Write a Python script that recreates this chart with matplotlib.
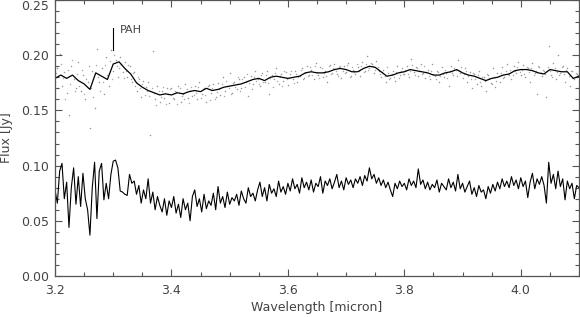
import numpy as np
import matplotlib
matplotlib.use('Agg')
import matplotlib.pyplot as plt
from matplotlib.ticker import MultipleLocator, FormatStrFormatter

# wavelength grid of the lower spectrum (micron), 0.004 micron step
wavelength = np.linspace(3.2, 4.1, 226)

# lower spectrum (Jy)
flux_low = [
    0.078, 0.066, 0.095, 0.102, 0.070, 0.085, 0.044, 0.080, 0.098, 0.065,
    0.090, 0.063, 0.093, 0.070, 0.060, 0.037, 0.080, 0.103, 0.052, 0.095,
    0.102, 0.069, 0.084, 0.070, 0.092, 0.104, 0.105, 0.098, 0.077, 0.076,
    0.074, 0.073, 0.092, 0.084, 0.086, 0.074, 0.082, 0.066, 0.078, 0.070,
    0.088, 0.066, 0.076, 0.060, 0.072, 0.064, 0.058, 0.070, 0.055, 0.068,
    0.062, 0.072, 0.057, 0.065, 0.053, 0.070, 0.060, 0.066, 0.050, 0.072,
    0.078, 0.063, 0.070, 0.058, 0.074, 0.061, 0.068, 0.064, 0.075, 0.060,
    0.081, 0.066, 0.072, 0.062, 0.076, 0.065, 0.071, 0.068, 0.074, 0.064,
    0.077, 0.070, 0.066, 0.080, 0.072, 0.075, 0.068, 0.078, 0.085, 0.072,
    0.080, 0.068, 0.083, 0.075, 0.079, 0.072, 0.086, 0.076, 0.081, 0.074,
    0.084, 0.077, 0.088, 0.079, 0.083, 0.075, 0.089, 0.080, 0.085, 0.078,
    0.087, 0.076, 0.084, 0.081, 0.090, 0.075, 0.086, 0.082, 0.088, 0.079,
    0.085, 0.092, 0.080, 0.086, 0.078, 0.089, 0.083, 0.087, 0.080, 0.088,
    0.084, 0.090, 0.082, 0.091, 0.086, 0.098, 0.088, 0.092, 0.084, 0.089,
    0.082, 0.087, 0.080, 0.085, 0.078, 0.072, 0.084, 0.079, 0.086, 0.081,
    0.084, 0.078, 0.088, 0.082, 0.086, 0.080, 0.097, 0.083, 0.087, 0.079,
    0.085, 0.078, 0.083, 0.080, 0.087, 0.076, 0.084, 0.081, 0.078, 0.088,
    0.080, 0.085, 0.077, 0.092, 0.079, 0.084, 0.076, 0.081, 0.086, 0.074,
    0.080, 0.072, 0.082, 0.076, 0.078, 0.070, 0.081, 0.075, 0.083, 0.077,
    0.085, 0.079, 0.088, 0.081, 0.086, 0.080, 0.090, 0.082, 0.087, 0.079,
    0.089, 0.081, 0.086, 0.071, 0.085, 0.093, 0.079, 0.088, 0.083, 0.090,
    0.082, 0.066, 0.103, 0.084, 0.092, 0.079, 0.095, 0.081, 0.088, 0.069,
    0.086, 0.079, 0.084, 0.070, 0.082, 0.080,
]

# upper spectrum, individual points (Jy): two interleaved sets
wavelength_pts_a = np.linspace(3.2, 4.1, 226)
flux_up_points_a = [
    0.176, 0.188, 0.201, 0.172, 0.185, 0.166, 0.146, 0.190, 0.178, 0.170,
    0.194, 0.168, 0.182, 0.160, 0.176, 0.134, 0.186, 0.152, 0.206, 0.176,
    0.188, 0.165, 0.198, 0.172, 0.205, 0.186, 0.196, 0.180, 0.198, 0.185,
    0.194, 0.180, 0.190, 0.176, 0.185, 0.168, 0.178, 0.162, 0.177, 0.171,
    0.176, 0.128, 0.204, 0.160, 0.172, 0.158, 0.168, 0.161, 0.170, 0.157,
    0.170, 0.160, 0.167, 0.172, 0.158, 0.165, 0.174, 0.161, 0.168, 0.163,
    0.172, 0.160, 0.176, 0.165, 0.170, 0.158, 0.173, 0.166, 0.174, 0.162,
    0.175, 0.164, 0.180, 0.168, 0.172, 0.184, 0.166, 0.176, 0.169, 0.178,
    0.170, 0.180, 0.176, 0.163, 0.181, 0.174, 0.186, 0.178, 0.172, 0.184,
    0.176, 0.186, 0.165, 0.182, 0.178, 0.188, 0.174, 0.183, 0.177, 0.185,
    0.173, 0.183, 0.178, 0.186, 0.176, 0.181, 0.188, 0.179, 0.190, 0.182,
    0.187, 0.178, 0.193, 0.182, 0.189, 0.180, 0.186, 0.176, 0.191, 0.184,
    0.192, 0.183, 0.189, 0.179, 0.190, 0.185, 0.193, 0.181, 0.187, 0.183,
    0.189, 0.181, 0.194, 0.186, 0.199, 0.188, 0.192, 0.184, 0.195, 0.186,
    0.180, 0.187, 0.176, 0.184, 0.179, 0.186, 0.177, 0.190, 0.182, 0.188,
    0.183, 0.190, 0.180, 0.197, 0.185, 0.189, 0.181, 0.192, 0.184, 0.179,
    0.187, 0.178, 0.192, 0.181, 0.186, 0.176, 0.189, 0.180, 0.184, 0.172,
    0.190, 0.182, 0.187, 0.196, 0.184, 0.179, 0.188, 0.176, 0.185, 0.170,
    0.183, 0.174, 0.186, 0.172, 0.180, 0.168, 0.182, 0.175, 0.188, 0.171,
    0.184, 0.176, 0.189, 0.180, 0.192, 0.182, 0.178, 0.190, 0.184, 0.194,
    0.182, 0.191, 0.180, 0.188, 0.176, 0.193, 0.184, 0.165, 0.189, 0.181,
    0.186, 0.162, 0.208, 0.182, 0.193, 0.178, 0.200, 0.184, 0.190, 0.176,
    0.188, 0.172, 0.186, 0.178, 0.183, 0.180,
]
wavelength_pts_b = np.linspace(3.202, 4.098, 225)
flux_up_points_b = [
    0.184, 0.170, 0.192, 0.179, 0.160, 0.187, 0.174, 0.196, 0.168, 0.183,
    0.172, 0.187, 0.165, 0.178, 0.190, 0.170, 0.162, 0.191, 0.180, 0.168,
    0.176, 0.191, 0.182, 0.195, 0.178, 0.200, 0.190, 0.188, 0.192, 0.179,
    0.186, 0.191, 0.178, 0.184, 0.172, 0.180, 0.170, 0.174, 0.164, 0.168,
    0.163, 0.170, 0.166, 0.155, 0.168, 0.162, 0.171, 0.156, 0.165, 0.169,
    0.161, 0.168, 0.156, 0.170, 0.163, 0.160, 0.169, 0.157, 0.171, 0.164,
    0.166, 0.171, 0.161, 0.169, 0.164, 0.172, 0.159, 0.170, 0.160, 0.167,
    0.169, 0.174, 0.163, 0.177, 0.170, 0.165, 0.175, 0.171, 0.180, 0.168,
    0.178, 0.171, 0.183, 0.175, 0.169, 0.180, 0.177, 0.174, 0.182, 0.176,
    0.182, 0.175, 0.179, 0.171, 0.184, 0.177, 0.181, 0.172, 0.186, 0.178,
    0.179, 0.186, 0.175, 0.183, 0.180, 0.187, 0.178, 0.184, 0.181, 0.189,
    0.182, 0.190, 0.185, 0.179, 0.188, 0.184, 0.181, 0.190, 0.183, 0.188,
    0.186, 0.181, 0.190, 0.186, 0.184, 0.191, 0.180, 0.189, 0.185, 0.192,
    0.186, 0.190, 0.185, 0.192, 0.187, 0.193, 0.190, 0.187, 0.189, 0.183,
    0.185, 0.181, 0.189, 0.178, 0.183, 0.180, 0.185, 0.179, 0.186, 0.183,
    0.187, 0.183, 0.186, 0.191, 0.182, 0.188, 0.186, 0.183, 0.190, 0.185,
    0.181, 0.186, 0.183, 0.178, 0.185, 0.181, 0.183, 0.187, 0.179, 0.186,
    0.184, 0.188, 0.181, 0.186, 0.189, 0.183, 0.186, 0.181, 0.178, 0.184,
    0.178, 0.182, 0.176, 0.180, 0.177, 0.183, 0.179, 0.174, 0.180, 0.177,
    0.181, 0.184, 0.179, 0.186, 0.183, 0.187, 0.182, 0.186, 0.189, 0.185,
    0.187, 0.183, 0.189, 0.185, 0.188, 0.182, 0.186, 0.190, 0.184, 0.187,
    0.183, 0.189, 0.186, 0.180, 0.188, 0.185, 0.182, 0.189, 0.183, 0.187,
    0.181, 0.186, 0.179, 0.184, 0.182,
]

# smoothed upper spectrum, 0.01 micron step
wavelength_smooth = np.linspace(3.2, 4.1, 91)
flux_up_smooth = [
    0.179, 0.182, 0.179, 0.182, 0.177, 0.174, 0.169, 0.184, 0.181, 0.178,
    0.192, 0.194, 0.188, 0.183, 0.175, 0.171, 0.168, 0.166, 0.164, 0.165,
    0.164, 0.166, 0.165, 0.167, 0.168, 0.167, 0.170, 0.168, 0.169, 0.171,
    0.172, 0.173, 0.174, 0.176, 0.178, 0.179, 0.177, 0.180, 0.181, 0.180,
    0.179, 0.180, 0.181, 0.184, 0.185, 0.184, 0.184, 0.185, 0.187, 0.188,
    0.187, 0.185, 0.185, 0.188, 0.190, 0.189, 0.185, 0.181, 0.182, 0.184,
    0.185, 0.187, 0.186, 0.185, 0.184, 0.182, 0.182, 0.184, 0.185, 0.187,
    0.184, 0.182, 0.181, 0.179, 0.177, 0.179, 0.180, 0.182, 0.183, 0.186,
    0.187, 0.187, 0.186, 0.184, 0.183, 0.187, 0.186, 0.185, 0.185, 0.179,
    0.181,
]

y_ticks = [0.00, 0.05, 0.10, 0.15, 0.20, 0.25]
y_tick_labels = ['0.00', '0.05', '0.10', '0.15', '0.20', '0.25']

plt.rcParams['font.family'] = ['DejaVu Sans']

fig = plt.figure(figsize=(5.8, 3.17), dpi=100)
ax = fig.add_axes([55 / 580, 41 / 317, 524 / 580, 276 / 317])

ax.scatter(wavelength_pts_a, flux_up_points_a, s=1.2, color='#999999', linewidths=0)
ax.scatter(wavelength_pts_b, flux_up_points_b, s=1.2, color='#aaaaaa', linewidths=0)
ax.plot(wavelength_smooth, flux_up_smooth, color='black', lw=0.9)
ax.plot(wavelength, flux_low, color='black', lw=0.8)

# PAH band marker
ax.plot([3.30, 3.30], [0.205, 0.225], color='black', lw=0.8)
ax.text(3.311, 0.223, 'PAH', fontsize=8, color='#444444', va='center', ha='left')

ax.set_xlim(3.2, 4.1)
ax.set_ylim(0.0, 0.25)
ax.xaxis.set_major_locator(MultipleLocator(0.2))
ax.xaxis.set_minor_locator(MultipleLocator(0.05))
ax.xaxis.set_major_formatter(FormatStrFormatter('%.1f'))
ax.set_yticks(y_ticks, labels=y_tick_labels)
ax.yaxis.set_minor_locator(MultipleLocator(0.01))
# top label sits just under the frame edge
for lab in ax.get_yticklabels():
    if lab.get_text() == '0.25':
        lab.set_va('top')

ax.tick_params(which='both', direction='in', top=True, right=True,
               colors='#555555', labelcolor='#444444', labelsize=9)
ax.tick_params(which='major', length=5, width=0.8)
ax.tick_params(which='minor', length=3, width=0.8)
ax.tick_params(axis='x', pad=6)
ax.tick_params(axis='y', pad=4)
for s in ax.spines.values():
    s.set_color('#555555')
    s.set_linewidth(0.9)

ax.set_xlabel('Wavelength [micron]', fontsize=9, color='#444444', labelpad=3)
ax.set_ylabel('Flux [Jy]', fontsize=9, color='#444444', labelpad=6)

fig.savefig('out.png', dpi=100)
